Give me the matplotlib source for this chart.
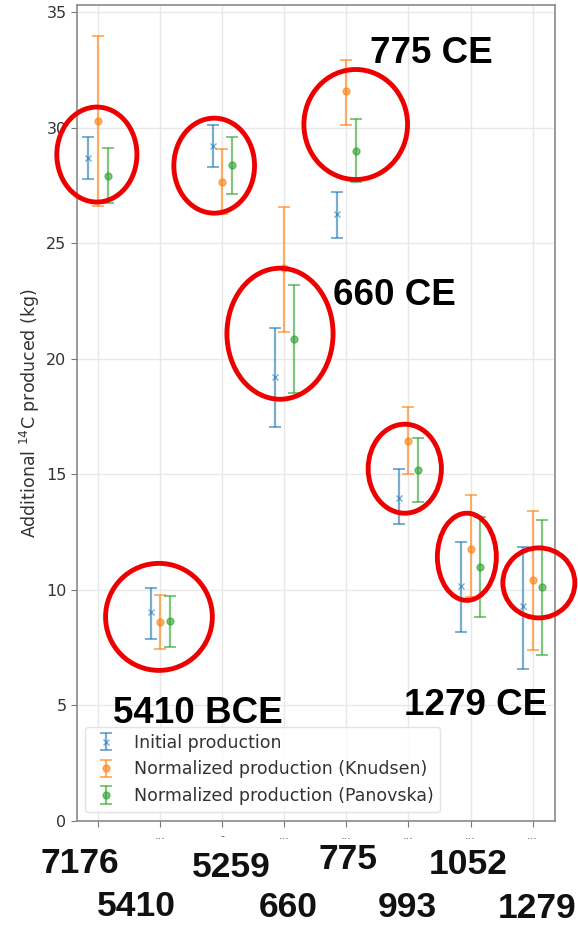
import matplotlib
matplotlib.use('Agg')
import matplotlib.pyplot as plt
import numpy as np
from matplotlib.patches import Ellipse

# event years along the x axis (tick order)
events = ['7176', '5410', '5259', '660', '775', '993', '1052', '1279']
tick_text = ['', '...', '-', '...', '...', '...', '...', '...']

# additional 14C produced (kg): centre, lower and upper end of error bar
initial = [28.70, 9.05, 29.22, 19.22, 26.28, 13.98, 10.17, 9.31]
initial_lo = [27.79, 7.88, 28.31, 17.06, 25.24, 12.86, 8.18, 6.58]
initial_hi = [29.61, 10.09, 30.13, 21.34, 27.19, 15.24, 12.08, 11.86]

knudsen = [30.30, 8.61, 27.66, 23.94, 31.56, 16.45, 11.77, 10.43]
knudsen_lo = [26.62, 7.45, 26.28, 21.17, 30.13, 15.02, 9.70, 7.40]
knudsen_hi = [33.98, 9.78, 29.05, 26.58, 32.90, 17.92, 14.11, 13.42]

panovska = [27.92, 8.66, 28.40, 20.87, 29.00, 15.19, 11.00, 10.13]
panovska_lo = [26.75, 7.53, 27.14, 18.53, 27.66, 13.81, 8.83, 7.19]
panovska_hi = [29.13, 9.74, 29.61, 23.20, 30.39, 16.58, 13.16, 13.03]

# red rings around the events (x index, y centre, width, height in data units)
ring_x = [-0.02, 1.87, 4.15, 2.93, 4.94, 5.94, 7.10, 0.98]
ring_y = [28.83, 28.35, 30.13, 21.08, 15.24, 11.43, 10.30, 8.83]
ring_w = [1.29, 1.30, 1.67, 1.71, 1.18, 0.95, 1.16, 1.72]
ring_h = [4.11, 4.11, 4.76, 5.67, 3.85, 3.77, 3.03, 4.63]

W, H = 578, 926
fig = plt.figure(figsize=(W / 100, H / 100), dpi=100)
ax = fig.add_axes([77 / W, 1 - 821 / H, (555 - 77) / W, (821 - 5) / H])

x = np.arange(len(events))
off = 0.155
series = [
    (initial, initial_lo, initial_hi, -off, '#1f77b4', 'x', 'Initial production'),
    (knudsen, knudsen_lo, knudsen_hi, 0.0, '#ff7f0e', 'o', 'Normalized production (Knudsen)'),
    (panovska, panovska_lo, panovska_hi, off, '#2ca02c', 'o', 'Normalized production (Panovska)'),
]
for vals, lo, hi, dx, col, mk, lab in series:
    vals = np.array(vals)
    err = [vals - np.array(lo), np.array(hi) - vals]
    ax.errorbar(x + dx, vals, yerr=err, fmt=mk, color=col, ecolor=col,
                elinewidth=1.6, capsize=4, capthick=1.4, markersize=5,
                alpha=0.6, label=lab)

ax.set_xlim(-0.34, 7.36)
ax.set_ylim(0, 35.3)
ax.set_yticks([0, 5, 10, 15, 20, 25, 30, 35])
ax.set_xticks(x)
ax.set_xticklabels(tick_text, fontsize=8, color='#555555')
ax.tick_params(axis='y', labelsize=11.5, labelcolor='#333333', color='#777777', length=4)
ax.tick_params(axis='x', color='#777777', length=4)
ax.grid(True, color='#e8e8e8', linewidth=1)
ax.set_axisbelow(True)
for s in ax.spines.values():
    s.set_color('#8a8a8a')
    s.set_linewidth(1.2)

ax.set_ylabel('Additional $^{14}$C produced (kg)', fontsize=12.5, color='#333333')
ax.yaxis.set_label_coords(-0.073, 0.5)

leg = ax.legend(loc='lower left', bbox_to_anchor=(0.017, 0.011), borderaxespad=0,
                fontsize=12.5, frameon=True, handlelength=1.6)
leg.get_frame().set_edgecolor('#dddddd')
for t in leg.get_texts():
    t.set_color('#333333')

for cx, cy, w, h in zip(ring_x, ring_y, ring_w, ring_h):
    ax.add_patch(Ellipse((cx, cy), w, h, fill=False, edgecolor='#ee0000',
                         linewidth=3.5, clip_on=False, zorder=5))

# event labels on the plot
bold = dict(family='Liberation Sans', weight='bold', fontsize=26.5, color='black',
            ha='center', va='baseline')
fig.text(431 / W, 1 - 63 / H, '775 CE', **bold)
fig.text(394 / W, 1 - 305 / H, '660 CE', **bold)
fig.text(198 / W, 1 - 723 / H, '5410 BCE', **bold)
fig.text(476 / W, 1 - 715 / H, '1279 CE', **bold)

# year labels under the axis, staggered in two rows
year_x = [80, 136, 231, 288, 348, 407, 468, 537]
year_base = [873, 916, 877, 917, 869, 917, 874, 918]
for yr, px, py in zip(events, year_x, year_base):
    fig.text(px / W, 1 - py / H, yr, family='Liberation Sans', weight='bold',
             fontsize=25.5, color='#111111', ha='center', va='baseline')

fig.savefig('out.png', dpi=100)
